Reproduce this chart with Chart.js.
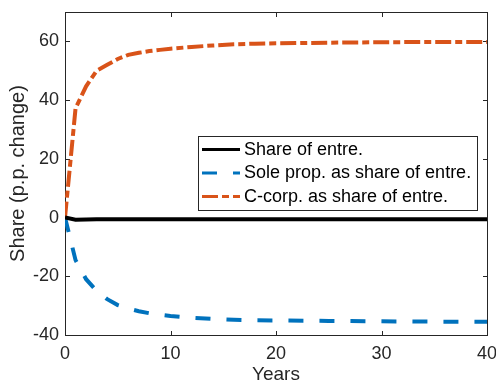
<!DOCTYPE html>
<html>
<head>
<meta charset="utf-8">
<script src="https://cdn.jsdelivr.net/npm/chart.js@4.4.1/dist/chart.umd.min.js"></script>
<style>
  html, body { margin: 0; padding: 0; background: #ffffff; }
  canvas { display: block; }
</style>
</head>
<body>
<canvas id="chart" width="496" height="387"></canvas>
<script>
// Transition path after the reform, in years
const years = [0, 1, 2, 3, 4, 5, 6, 7, 8, 9, 10, 12, 14, 16, 18, 20, 25, 30, 35, 40];

// Percentage-point changes relative to the initial steady state
const shareEntre = [0, -0.75, -0.65, -0.6, -0.6, -0.6, -0.6, -0.6, -0.6, -0.6, -0.6, -0.6, -0.6, -0.6, -0.6, -0.6, -0.6, -0.6, -0.6, -0.6];
const soleProp   = [0, -14.5, -21.0, -25.0, -27.8, -29.8, -31.0, -31.9, -32.6, -33.1, -33.5, -34.1, -34.5, -34.8, -35.0, -35.05, -35.2, -35.35, -35.45, -35.5];
const cCorp      = [0, 37.2, 44.7, 50.0, 52.0, 54.0, 55.4, 56.1, 56.7, 57.1, 57.5, 58.1, 58.6, 59.0, 59.2, 59.35, 59.55, 59.7, 59.8, 59.8];

const seriesLabels = ['Share of entre.', 'Sole prop. as share of entre.', 'C-corp. as share of entre.'];
const xTicks = [0, 10, 20, 30, 40];
const yTicks = [-40, -20, 0, 20, 40, 60];

const FONT = '"Liberation Sans", Arial, Helvetica, sans-serif';
const AXIS_COLOR = '#262626';

const toPoints = (vals) => years.map((x, i) => ({ x: x, y: vals[i] }));

// Full box with inward tick marks on all four sides
const axesBox = {
  id: 'axesBox',
  beforeDatasetsDraw(chart) {
    const { ctx, chartArea: a, scales: { x, y } } = chart;
    const len = 5;
    ctx.save();
    ctx.strokeStyle = AXIS_COLOR;
    ctx.lineWidth = 1;
    ctx.strokeRect(a.left + 0.5, a.top + 0.5, a.right - a.left, a.bottom - a.top);
    ctx.beginPath();
    yTicks.forEach(v => {
      const py = Math.round(y.getPixelForValue(v)) + 0.5;
      ctx.moveTo(a.left, py); ctx.lineTo(a.left + len, py);
      ctx.moveTo(a.right + 1, py); ctx.lineTo(a.right + 1 - len, py);
    });
    xTicks.forEach(v => {
      const px = Math.round(x.getPixelForValue(v)) + 0.5;
      ctx.moveTo(px, a.bottom + 1); ctx.lineTo(px, a.bottom + 1 - len);
      ctx.moveTo(px, a.top); ctx.lineTo(px, a.top + len);
    });
    ctx.stroke();
    ctx.restore();
  }
};

// Boxed legend inside the plot, drawn from the datasets' own styles
const boxedLegend = {
  id: 'boxedLegend',
  afterDatasetsDraw(chart) {
    const { ctx } = chart;
    const bx = 198, by = 136, bw = 279, bh = 74;
    ctx.save();
    ctx.fillStyle = '#ffffff';
    ctx.fillRect(bx, by, bw, bh);
    ctx.strokeStyle = AXIS_COLOR;
    ctx.lineWidth = 1;
    ctx.strokeRect(bx + 0.5, by + 0.5, bw, bh);
    chart.data.datasets.forEach((ds, i) => {
      const ry = by + 13.5 + i * 23.5;
      ctx.beginPath();
      ctx.strokeStyle = ds.borderColor;
      ctx.lineWidth = 3;
      ctx.lineCap = 'butt';
      ctx.setLineDash(ds.borderDash || []);
      ctx.moveTo(202, ry);
      ctx.lineTo(240, ry);
      ctx.stroke();
      ctx.setLineDash([]);
      ctx.fillStyle = '#000000';
      ctx.font = '18px ' + FONT;
      ctx.textAlign = 'left';
      ctx.textBaseline = 'middle';
      ctx.fillText(ds.label, 244, ry + 0.5);
    });
    ctx.restore();
  }
};

new Chart(document.getElementById('chart'), {
  type: 'line',
  data: {
    datasets: [
      {
        label: seriesLabels[0],
        data: toPoints(shareEntre),
        borderColor: '#000000',
        borderWidth: 4,
        borderDash: [],
        pointRadius: 0,
        tension: 0,
        clip: 0
      },
      {
        label: seriesLabels[1],
        data: toPoints(soleProp),
        borderColor: '#0072BD',
        borderWidth: 4,
        borderDash: [15, 16],
        borderCapStyle: 'butt',
        pointRadius: 0,
        tension: 0,
        clip: 0
      },
      {
        label: seriesLabels[2],
        data: toPoints(cCorp),
        borderColor: '#D95319',
        borderWidth: 4,
        borderDash: [16, 4, 7, 4],
        borderCapStyle: 'butt',
        pointRadius: 0,
        tension: 0,
        clip: 0
      }
    ]
  },
  options: {
    responsive: false,
    animation: false,
    events: [],
    layout: { padding: { top: 12, right: 9, left: 0, bottom: 0 } },
    plugins: {
      legend: { display: false },
      tooltip: { enabled: false },
      title: { display: false }
    },
    scales: {
      x: {
        type: 'linear',
        min: 0,
        max: 40,
        grid: { display: false, drawTicks: false },
        border: { display: false },
        afterBuildTicks(scale) { scale.ticks = xTicks.map(v => ({ value: v })); },
        afterFit(scale) { scale.height = 52; scale.paddingLeft = 0; scale.paddingRight = 0; },
        ticks: {
          color: AXIS_COLOR,
          font: { family: FONT, size: 18 },
          padding: 8,
          maxRotation: 0,
          autoSkip: false,
          callback: (v) => String(v)
        },
        title: {
          display: true,
          text: 'Years',
          color: AXIS_COLOR,
          font: { family: FONT, size: 19 },
          padding: { top: 0, bottom: 1 }
        }
      },
      y: {
        type: 'linear',
        min: -40,
        max: 70,
        grid: { display: false, drawTicks: false },
        border: { display: false },
        afterBuildTicks(scale) { scale.ticks = yTicks.map(v => ({ value: v })); },
        afterFit(scale) { scale.width = 65; scale.paddingTop = 0; scale.paddingBottom = 0; },
        ticks: {
          color: AXIS_COLOR,
          font: { family: FONT, size: 18 },
          padding: 6,
          autoSkip: false,
          callback: (v) => String(v)
        },
        title: {
          display: true,
          text: 'Share (p.p. change)',
          color: AXIS_COLOR,
          font: { family: FONT, size: 20 },
          padding: { top: 6, bottom: 0 }
        }
      }
    }
  },
  plugins: [axesBox, boxedLegend]
});
</script>
</body>
</html>
